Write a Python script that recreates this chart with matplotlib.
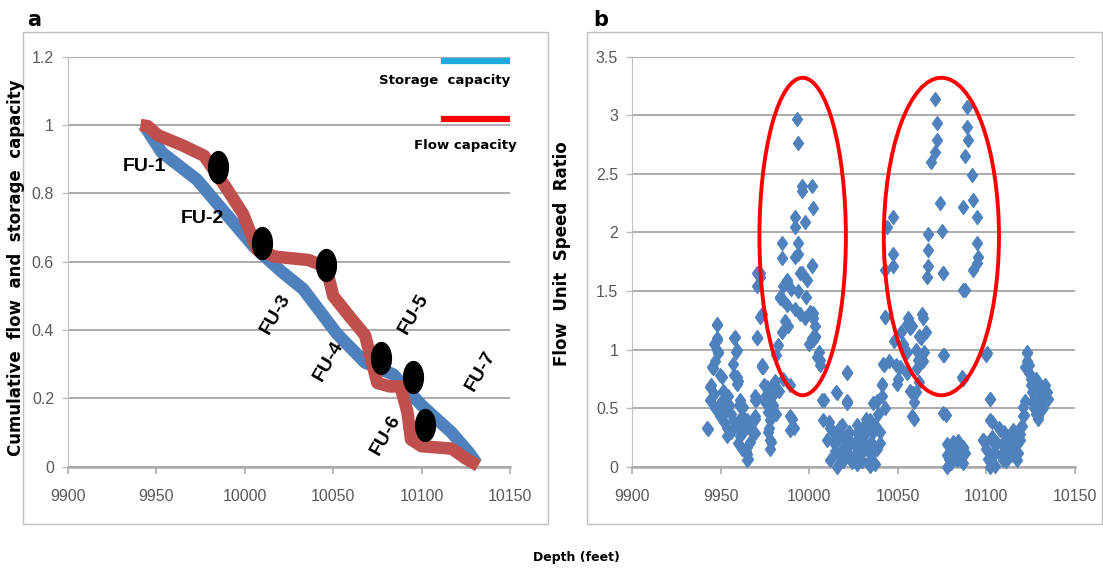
import numpy as np
import matplotlib
matplotlib.use('Agg')
import matplotlib.pyplot as plt
from matplotlib.patches import Ellipse, Rectangle
from matplotlib.lines import Line2D

# ---- panel a: cumulative capacity curves ----
storage_depth = [9943, 9953, 9973, 9991, 10005, 10021, 10033, 10052, 10068, 10084, 10100, 10117, 10127, 10131]
storage_cap = [1.0, 0.92, 0.84, 0.73, 0.645, 0.57, 0.52, 0.39, 0.305, 0.27, 0.18, 0.10, 0.04, 0.01]

flow_depth = [9941, 9945, 9951, 9965, 9977, 9989, 9999, 10007, 10017, 10036, 10046, 10050, 10060,
              10068, 10072, 10075, 10082, 10088, 10092, 10094, 10100, 10117, 10125, 10132]
flow_cap = [1.0, 0.997, 0.97, 0.94, 0.91, 0.82, 0.74, 0.635, 0.615, 0.605, 0.585, 0.50, 0.435,
            0.385, 0.305, 0.245, 0.235, 0.235, 0.16, 0.08, 0.06, 0.053, 0.024, 0.003]

dot_depth = [9984.6, 10009.7, 10045.8, 10077.3, 10095.0, 10102.0]
dot_cap = [0.878, 0.654, 0.590, 0.317, 0.262, 0.123]

fu_names = ['FU-1', 'FU-2', 'FU-3', 'FU-4', 'FU-5', 'FU-6', 'FU-7']
fu_depth = [9943.5, 9976, 10017.6, 10047.2, 10095.7, 10079.8, 10133.2]
fu_cap = [0.878, 0.727, 0.446, 0.309, 0.446, 0.093, 0.279]
fu_rot = [0, 0, 60, 60, 60, 60, 60]

# ---- panel b: flow unit speed ratio ----
speed_depth = [
    9943.1, 9944.7, 9945.7, 9946.7, 9947.7, 9947.7, 9948.7, 9949.7, 9951.7, 9952.7, 9953.7, 9954.7,
    9955.6, 9957.6, 9958.6, 9957.6, 9959.6, 9960.6, 9961.6, 9962.6, 9964.6, 9965.6, 9966.6, 9967.6,
    9969.6, 9970.6, 9970.6, 9973.5, 9973.5, 9974.5, 9975.5, 9976.5, 9977.5, 9978.5, 9979.5, 9980.5,
    9981.5, 9982.5, 9984.5, 9986.4, 9989.4, 9990.4, 9991.4, 9983.5, 9987.4, 9993.4, 9997.4, 10000.4,
    10002.4, 10001.4, 10003.4, 10005.3, 10006.3, 10008.3, 10011.3, 10013.3, 10014.3, 10015.3, 10016.3,
    10018.3, 10019.2, 10021.2, 10021.2, 10022.2, 10024.2, 10025.2, 10027.2, 10029.2, 10030.2, 10032.2,
    10034.1, 10035.1, 10037.1, 10038.1, 10040.1, 10041.1, 10042.1, 10042.7, 10045.1, 10048.1, 10049.1,
    10050.1, 10052.0, 10055, 10056, 10057, 10059, 10060, 10061, 10062, 10064, 10065, 10066,
    10076, 10077, 10078, 10079, 10081, 10083, 10085, 10087, 10087, 10088, 10099, 10100, 10101,
    10102, 10103, 10104, 10105, 10107, 10109, 10110, 10113, 10115, 10117, 10119, 10121, 10122,
    10123, 10124, 10125, 10126, 10127, 10129, 10130, 10132, 10134, 10135,
    # upper part of first ellipse
    9993.3, 9993.8, 9995.8, 10001.4, 9995.8, 10002.3, 9992.0, 9997.6, 9992.0, 9993.8, 9984.5, 9984.5,
    9993.8, 9992.0, 10001.4, 9994.8, 9987.3, 9972.2,
    # upper part of second ellipse
    10071, 10072, 10072, 10071, 10069, 10088.8, 10088.8, 10089.8, 10087.9, 10091.7, 10073.8, 10087,
    10092.6, 10094.5, 10047.4, 10043.7, 10067.2, 10074.7, 10067.2, 10047.4, 10094.5, 10095.4, 10047.4,
    10067.2, 10075.7, 10042.8, 10092.6,
    # left cluster
    9970.4, 9970.4, 9972.2, 9970.4, 9947.8, 9947.8, 9948.7, 9958.1, 9959.1, 9945.0, 9944.0, 9950.6,
    9951.5, 9959.1, 9959.1, 9942.2, 9953.4, 9953.4, 9957.2, 9960.9, 9960.9, 9964.7, 9964.7, 9969.4,
    9969.4, 9969.4, 9974.1, 9944.0, 9949.7, 9961.9,
    9946, 9947, 9950, 9952, 9954, 9956, 9958, 9960, 9962, 9963, 9966, 9948, 9957, 9946,
    # middle cluster
    9972.2, 9987.3, 9995.8, 10001.4, 9983.5, 9985.4, 9985.4, 9998.6, 10002.3, 10003.3, 10004.2, 9988.2,
    9970.4, 9973.2, 10002.3, 10006.1, 9976.0, 9979.7, 9969.4, 9976.0, 9977.9, 9977.9, 9989.2, 9989.2,
    9962.8, 9964.7, 9964.7, 9960.9, 10007.0, 10015.5, 10021.1, 10021.1, 10008.0, 10009.9, 10011.7,
    10017.4, 10021.1, 10015.5, 10026.8, 10024.9, 10030.5, 10032.4,
    9975, 9977, 9979, 9981, 9978, 9983, 9985, 9995, 9998, 10000, 10003, 9990, 9992,
    10012, 10014, 10016, 10017, 10019, 10020, 10022, 10023, 10026, 10027, 10028, 10030, 10031,
    10033, 10035, 10036, 10037, 10038, 10039, 10040, 10041, 10043,
    # right-middle cluster
    10042.8, 10055.0, 10063.5, 10041.8, 10040.9, 10051.2, 10049.4, 10061.6, 10058.7, 10057.8, 10075.7,
    10075.7, 10086.0, 10087.0, 10094.5, 10066.3, 10075.7, 10079.4, 10083.2, 10077.6, 10098.3, 10034.3,
    10036.2, 10030.5, 10034.3,
    10053, 10055, 10058, 10060, 10062, 10063, 10064, 10057, 10059,
    10078, 10080, 10082, 10084, 10086, 10088,
    # right cluster
    10100.1, 10102.0, 10102.0, 10098.2, 10122.7, 10121.8, 10126.5, 10130.2, 10129.3, 10120.8, 10120.8,
    10107.7, 10115.2, 10113.3, 10119.0, 10103.9, 10109.5, 10102.0, 10117.0, 10087.0, 10087.0,
    10100, 10103, 10105, 10106, 10108, 10110, 10111, 10112, 10114, 10116, 10118, 10119, 10120,
    10123, 10124, 10125, 10126, 10127, 10128, 10129, 10131, 10132, 10133, 10128,
]
speed_ratio = [
    0.32, 0.70, 0.84, 0.90, 1.21, 1.10, 0.98, 0.78, 0.64, 0.47, 0.33, 0.53,
    0.30, 1.10, 0.98, 0.78, 0.73, 0.53, 0.41, 0.30, 0.13, 0.07, 0.21, 0.30,
    0.41, 0.58, 1.10, 0.87, 1.30, 0.70, 0.61, 0.47, 0.33, 0.21, 0.53, 0.73,
    0.95, 1.04, 1.15, 1.24, 0.70, 0.41, 0.33, 1.44, 1.38, 1.50, 1.27, 1.32,
    1.27, 1.10, 1.12, 0.98, 0.87, 0.57, 0.38, 0.30, 0.13, 0.64, 0.24,
    0.36, 0.16, 0.81, 0.56, 0.30, 0.04, 0.19, 0.36, 0.24, 0.13, 0.41,
    0.01, 0.21, 0.36, 0.56, 0.30, 0.70, 0.87, 1.28, 0.90, 1.07, 0.87,
    0.75, 1.15, 0.98, 1.27, 1.18, 0.41, 0.64, 0.84, 1.12, 1.27, 0.98, 1.15,
    0.95, 0.44, 0.19, 0.07, 0.21, 0.13, 0.07, 0.16, 0.75, 1.51, 0.21, 0.95, 0.07,
    0.58, 0.38, 0.21, 0.01, 0.33, 0.19, 0.30, 0.13, 0.27, 0.19, 0.33, 0.44, 0.56,
    0.98, 0.87, 0.75, 0.64, 0.50, 0.41, 0.70, 0.61, 0.64, 0.58,
    2.97, 2.76, 2.40, 2.40, 2.35, 2.21, 2.13, 2.09, 2.05, 1.91, 1.91, 1.78,
    1.82, 1.79, 1.72, 1.65, 1.58, 1.65,
    3.14, 2.93, 2.79, 2.69, 2.60, 3.07, 2.90, 2.79, 2.65, 2.49, 2.25, 2.22,
    2.28, 2.13, 2.13, 2.05, 1.99, 2.01, 1.85, 1.82, 1.91, 1.79, 1.71,
    1.71, 1.65, 1.68, 1.68,
    1.65, 1.54, 1.28, 1.10, 1.22, 1.08, 0.97, 1.11, 1.00, 0.85, 0.68, 0.77,
    0.65, 0.77, 0.71, 0.33, 0.48, 0.26, 0.40, 0.57, 0.31, 0.17, 0.06, 0.57,
    0.43, 0.29, 0.85, 0.57, 0.43, 0.43,
    0.62, 0.50, 0.55, 0.38, 0.60, 0.45, 0.35, 0.20, 0.15, 0.40, 0.35, 1.00, 0.88, 1.05,
    1.62, 1.59, 1.65, 1.71, 1.45, 1.54, 1.42, 1.59, 1.31, 1.11, 0.94, 1.20,
    1.11, 0.85, 1.08, 0.91, 0.68, 0.71, 0.60, 0.54, 0.40, 0.23, 0.43, 0.31,
    0.51, 0.40, 0.11, 0.26, 0.57, 0.63, 0.80, 0.54, 0.40, 0.23, 0.06,
    0.34, 0.17, 0.00, 0.29, 0.06, 0.17, 0.34,
    0.55, 0.30, 0.60, 0.45, 0.15, 0.65, 0.75, 1.30, 1.45, 1.05, 1.20, 1.52, 1.35,
    0.33, 0.20, 0.10, 0.28, 0.05, 0.25, 0.12, 0.22, 0.10, 0.02, 0.15, 0.05, 0.27,
    0.18, 0.10, 0.30, 0.02, 0.15, 0.45, 0.20, 0.60, 0.50,
    1.28, 1.22, 1.30, 0.88, 0.71, 0.85, 0.71, 0.91, 0.63, 0.43, 0.95,
    0.46, 0.77, 1.51, 1.74, 1.62, 1.65, 0.17, 0.06, 0.00, 0.23, 0.40,
    0.54, 0.34, 0.06,
    1.05, 0.80, 1.20, 1.00, 0.72, 1.10, 0.90, 0.65, 0.55,
    0.10, 0.03, 0.14, 0.22, 0.09, 0.12,
    0.97, 0.58, 0.40, 0.23, 0.97, 0.85, 0.68, 0.60, 0.43, 0.51, 0.43,
    0.31, 0.31, 0.17, 0.23, 0.11, 0.06, 0.00, 0.06, 0.17, 0.03,
    0.15, 0.25, 0.12, 0.20, 0.10, 0.18, 0.05, 0.25, 0.10, 0.20, 0.12, 0.28, 0.35,
    0.90, 0.80, 0.70, 0.55, 0.62, 0.45, 0.68, 0.55, 0.50, 0.70, 0.75,
]

# highlighted zones (center depth, center ratio, width, height)
zones = [(9996.3, 1.965, 48.8, 2.71), (10074.6, 1.965, 65.0, 2.71)]

blue = '#4F81BD'
red = '#C0504D'
grid_c = '#ABABAB'
tick_c = '#595959'
arial = ['Liberation Sans', 'DejaVu Sans']

fig = plt.figure(figsize=(11.03, 5.70), dpi=100)
fig.patches.append(Rectangle((0.0209, 0.0807), 0.476, 0.8626, transform=fig.transFigure,
                             fill=False, edgecolor='#BFBFBF', lw=1.0))
fig.patches.append(Rectangle((0.5322, 0.0807), 0.4669, 0.8626, transform=fig.transFigure,
                             fill=False, edgecolor='#BFBFBF', lw=1.0))

ax1 = fig.add_axes([0.06165, 0.1812, 0.4007, 0.7193])
ax2 = fig.add_axes([0.5730, 0.1812, 0.4016, 0.7193])


def style_axes(ax, ymax, ystep):
    ax.set_xlim(9900, 10150)
    ax.set_ylim(0, ymax)
    ax.set_xticks(np.arange(9900, 10151, 50))
    ax.set_yticks(np.arange(0, ymax + 1e-9, ystep))
    ax.yaxis.grid(True, color=grid_c, lw=1.4)
    ax.set_axisbelow(True)
    for s in ['top', 'right']:
        ax.spines[s].set_visible(False)
    ax.spines['left'].set_color('#BFBFBF')
    ax.spines['left'].set_linewidth(0.8)
    ax.spines['bottom'].set_color(grid_c)
    ax.spines['bottom'].set_linewidth(1.8)
    ax.tick_params(axis='x', length=5, width=1.2, color=grid_c, pad=11,
                   labelsize=11.5, labelcolor=tick_c)
    ax.tick_params(axis='y', length=4, width=1.0, color='#BFBFBF', pad=6,
                   labelsize=11.5, labelcolor=tick_c)
    for lab in ax.get_xticklabels() + ax.get_yticklabels():
        lab.set_family(arial)


style_axes(ax1, 1.2, 0.2)
ax1.set_yticklabels(['0', '0.2', '0.4', '0.6', '0.8', '1', '1.2'])
ax1.plot(storage_depth, storage_cap, color=blue, lw=9, solid_capstyle='butt', clip_on=False, zorder=3)
ax1.plot(flow_depth, flow_cap, color=red, lw=9, solid_capstyle='butt', clip_on=False, zorder=4)
dot_marker = [(0.62 * np.cos(t), np.sin(t)) for t in np.linspace(0, 2 * np.pi, 40)]
ax1.plot(dot_depth, dot_cap, ls='none', marker=dot_marker, ms=23, color='black', zorder=5)
for name, d, c, r in zip(fu_names, fu_depth, fu_cap, fu_rot):
    ax1.text(d, c, name, rotation=r, ha='center', va='center', fontsize=14,
             fontweight='bold', family=arial, zorder=6)

# legend of panel a
ax1.add_line(Line2D([0.85, 1.0], [0.989, 0.989], transform=ax1.transAxes, color='#1FA8E0', lw=4.5))
ax1.add_line(Line2D([0.85, 1.0], [0.848, 0.848], transform=ax1.transAxes, color='#FF0000', lw=4.5))
ax1.text(1.0, 0.941, 'Storage  capacity', transform=ax1.transAxes, ha='right', va='center',
         fontsize=9.5, fontweight='bold')
ax1.text(1.016, 0.783, 'Flow capacity', transform=ax1.transAxes, ha='right', va='center',
         fontsize=9.5, fontweight='bold')

style_axes(ax2, 3.5, 0.5)
ax2.set_yticklabels(['0', '0.5', '1', '1.5', '2', '2.5', '3', '3.5'])
diamond = [(0, 1), (0.72, 0), (0, -1), (-0.72, 0), (0, 1)]
ax2.plot(speed_depth, speed_ratio, ls='none', marker=diamond, ms=10, color=blue,
         clip_on=False, zorder=3)
for cx, cy, w, h in zones:
    ax2.add_patch(Ellipse((cx, cy), w, h, fill=False, edgecolor='#FF0000', lw=2.8, zorder=4))

fig.text(34 / 1103, 1 - 20 / 570, 'a', ha='center', va='center', fontsize=15, fontweight='bold')
fig.text(601 / 1103, 1 - 20 / 570, 'b', ha='center', va='center', fontsize=15, fontweight='bold')
fig.text(16 / 1103, 1 - 268 / 570, 'Cumulative  flow  and  storage  capacity', rotation=90,
         ha='center', va='center', fontsize=12, fontweight='bold')
fig.text(562 / 1103, 1 - 254 / 570, 'Flow  Unit  Speed  Ratio', rotation=90,
         ha='center', va='center', fontsize=12, fontweight='bold')
fig.text(576 / 1103, 1 - 558 / 570, 'Depth (feet)', ha='center', va='center',
         fontsize=9, fontweight='bold')

fig.savefig('out.png', dpi=100)
